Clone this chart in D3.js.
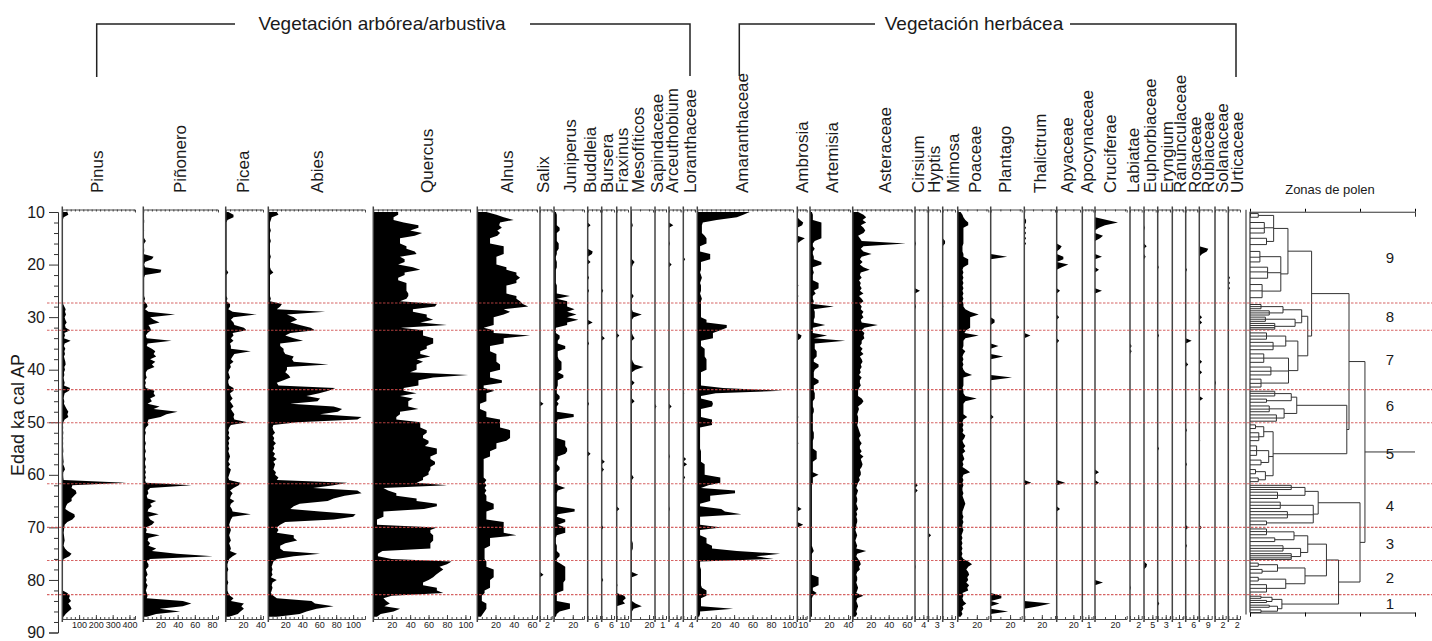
<!DOCTYPE html>
<html>
<head>
<meta charset="utf-8">
<script src="https://cdn.jsdelivr.net/npm/d3@7"></script>
<style>
  body { margin: 0; background: #fff; }
  svg text { font-family: "Liberation Sans", Arial, sans-serif; fill: #1a1a1a; }
</style>
</head>
<body>
<svg width="1432" height="641"></svg>
<script>
// ---- data -------------------------------------------------------------

var ages = [
  10,10.5,11,11.5,12,12.5,13,13.5,14,14.5,
  15,15.5,16,16.5,17,17.5,18,18.5,19,19.5,
  20,20.5,21,21.5,22,22.5,23,23.5,24,24.5,
  25,25.5,26,26.5,27,27.5,28,28.5,29,29.5,
  30,30.5,31,31.5,32,32.5,33,33.5,34,34.5,
  35,35.5,36,36.5,37,37.5,38,38.5,39,39.5,
  40,40.5,41,41.5,42,42.5,43,43.5,44,44.5,
  45,45.5,46,46.5,47,47.5,48,48.5,49,49.5,
  50,50.5,51,51.5,52,52.5,53,53.5,54,54.5,
  55,55.5,56,56.5,57,57.5,58,58.5,59,59.5,
  60,60.5,61,61.5,62,62.5,63,63.5,64,64.5,
  65,65.5,66,66.5,67,67.5,68,68.5,69,69.5,
  70,70.5,71,71.5,72,72.5,73,73.5,74,74.5,
  75,75.5,76,76.5,77,77.5,78,78.5,79,79.5,
  80,80.5,81,81.5,82,82.5,83,83.5,84,84.5,
  85,85.5,86,86.5,87
];

var taxa = ["Pinus", "Piñonero", "Picea", "Abies", "Quercus", "Alnus", "Salix", "Juniperus",
  "Buddleia", "Bursera", "Fraxinus", "Mesofíticos", "Sapindaceae", "Arceuthobium", "Loranthaceae",
  "Amaranthaceae", "Ambrosia", "Artemisia", "Asteraceae", "Cirsium", "Hyptis", "Mimosa", "Poaceae",
  "Plantago", "Thalictrum", "Apyaceae", "Apocynaceae", "Cruciferae", "Labiatae", "Euphorbiaceae",
  "Eryngium", "Ranunculaceae", "Rosaceae", "Rubiaceae", "Solanaceae", "Urticaceae"];

var axisMax = [433, 87, 43, 114, 105, 65.6, 3.3, 32, 8.6, 7.9, 14.9, 24.4, 1.5, 6.2, 6.2,
  104, 17.4, 42, 65.6, 5.6, 4.2, 4.2, 32, 32, 35, 28, 1.8, 31.7, 2.85, 7, 4.6, 1.64, 9.1, 13.3, 2.9, 2.8];

var axisTicks = [[100, 200, 300, 400], [20, 40, 60, 80], [20, 40], [20, 40, 60, 80, 100],
  [20, 40, 60, 80, 100], [20, 40, 60], [2], [20], [6], [6], [10], [20], [1], [4], [4],
  [20, 40, 60, 80, 100], [10], [20, 40], [20, 40, 60], [4], [3], [3], [20], [20], [20], [20],
  [1], [20], [2], [5], [3], [1], [6], [9], [2], [2]];

var pinus = [
  30,36,8,3,2,2,2,2,2,2,  2,2,2,2,2,2,2,2,2,2,  2,2,2,2,2,2,2,2,2,2,
  2,2,2,2,3,5,12,20,16,22,  14,18,26,16,20,46,12,16,10,50,  14,10,18,12,16,10,14,18,20,12,
  16,10,12,8,10,14,10,46,40,14,  10,8,12,10,18,26,36,30,36,14,  6,4,5,4,6,4,5,4,5,4,
  5,6,4,5,6,8,5,12,16,6,  5,6,8,380,60,55,80,85,70,55,  56,30,22,18,40,72,75,60,30,14,
  12,10,8,10,12,14,10,8,16,30,  55,42,8,3,2,2,2,2,2,2,  2,2,2,2,2,30,45,40,52,36,
  48,55,36,20,8];

var pinonero = [
  0,0,0,1,1,0,0,1,0,0,  1,3,1,0,1,1,0,12,10,2,  1,2,21,20,2,1,1,1,1,1,
  1,1,1,2,1,4,5,2,6,37,  8,12,19,6,8,9,5,3,4,33,  5,4,10,14,12,15,8,14,10,13,
  5,3,3,4,2,3,2,3,13,12,  14,8,10,5,19,12,40,27,20,6,  5,6,3,2,3,2,2,2,3,2,
  2,3,2,2,3,2,2,3,2,3,  2,3,2,3,56,8,5,6,4,5,  15,8,10,6,5,18,6,8,13,10,
  3,4,3,19,6,5,8,6,15,10,  39,81,8,4,6,6,3,4,5,3,  4,3,5,4,3,4,5,4,46,56,
  46,19,43,15,4];

var picea = [
  3,9,9,2,1,1,1,1,1,1,  1,1,1,1,1,1,1,1,1,1,  1,1,1,3,1,1,1,1,1,1,
  1,1,1,2,1,5,5,3,8,36,  9,6,9,10,21,24,8,9,6,9,  5,6,6,29,10,8,6,9,5,6,
  4,3,4,5,3,3,4,9,9,5,  6,8,5,7,9,6,8,10,9,10,  25,6,4,3,4,3,5,3,4,3,
  4,3,4,5,4,3,5,3,6,5,  4,3,4,17,15,9,5,8,6,5,  10,6,5,7,8,29,8,6,5,4,
  5,6,5,4,5,6,4,5,6,5,  13,8,4,3,2,2,3,2,2,2,  2,3,2,2,2,3,5,9,6,21,
  18,21,17,14,4];

var abies = [
  10,12,4,3,2,2,2,3,2,2,  2,3,2,2,2,2,2,3,2,2,  2,2,3,6,2,2,2,2,2,2,
  2,2,2,3,2,16,14,10,67,22,  30,34,26,37,50,55,26,20,30,41,  14,14,18,18,20,30,28,30,71,22,
  22,20,24,26,18,10,12,79,71,60,  45,61,58,26,77,87,82,61,110,105,  34,6,5,6,8,5,7,6,9,6,
  7,5,8,6,10,6,8,7,6,9,  8,12,10,93,77,53,105,110,90,77,  70,37,30,26,61,103,100,77,20,14,
  10,12,10,30,30,34,20,14,14,18,  61,30,10,6,5,4,5,4,5,3,  10,5,4,5,4,3,6,10,51,55,
  77,57,45,37,10];

var quercus = [
  27,27,22,22,33,49,49,40,53,45,  29,29,29,36,36,45,47,29,34,34,  27,43,51,34,34,27,27,36,36,36,
  36,38,38,36,29,69,67,43,43,58,  58,65,51,80,30,54,54,54,65,65,  65,58,58,51,51,62,47,54,47,47,
  47,40,103,65,49,49,49,33,33,47,  29,43,38,38,38,49,29,29,25,25,  51,51,51,58,58,54,54,60,60,56,
  69,69,69,62,62,67,67,62,62,60,  60,54,54,47,80,11,16,25,25,47,  47,69,69,55,11,11,11,4,4,4,
  69,62,62,65,65,65,62,62,62,10,  5,5,20,85,80,72,76,72,68,65,  60,54,54,69,69,76,20,11,14,18,
  12,29,22,8,4];

var alnus = [
  10,21,29,40,25,24,27,22,25,22,  14,14,14,29,29,29,29,21,21,21,  21,32,32,43,43,47,43,43,32,32,
  32,32,43,43,47,50,56,29,36,29,  18,18,18,18,7,18,18,58,29,29,  29,14,14,14,21,21,21,21,25,25,
  25,14,14,14,27,27,7,7,19,10,  10,10,10,3,3,3,10,10,10,25,  25,25,25,36,36,36,36,32,21,21,
  21,14,14,14,7,7,7,7,7,7,  7,7,10,8,10,8,10,8,10,10,  10,18,18,18,10,10,10,10,29,29,
  29,29,29,43,14,14,14,14,8,8,  8,8,8,10,10,10,18,18,18,18,  14,14,14,14,8,8,5,5,5,10,
  10,10,8,6,4];

var juniperus = [
  2,3,3,3,3,3,6,6,3,3,  3,3,5,5,5,3,3,2,2,3,  3,3,2,2,2,2,2,2,3,3,
  3,3,17,3,14,14,14,22,14,24,  14,26,14,14,2,2,2,6,6,4,  4,12,12,4,4,4,5,8,8,8,
  8,4,10,10,4,4,4,3,3,3,  6,6,3,5,3,3,3,21,21,4,  3,3,3,3,3,3,3,12,12,12,
  14,14,12,4,4,3,3,6,6,3,  3,3,3,3,4,12,4,3,3,3,  3,3,3,22,22,4,3,12,12,4,
  12,12,12,3,2,2,2,3,3,3,  6,6,3,3,8,12,12,12,12,12,  12,10,10,10,10,3,3,3,3,17,
  17,17,6,3,2];

var mesofiticos = [
  1,1,1,1,1,2,1,1,1,1,  1,1,1,1,1,1,1,1,1,4,  2,1,1,1,1,1,1,1,1,1,
  1,1,3,1,1,1,1,1,2,12,  3,1,1,1,1,1,1,2,4,1,  1,1,1,1,1,1,1,2,4,14,
  5,1,1,1,1,4,1,1,1,1,  1,1,4,1,1,1,1,1,1,1,  1,1,1,1,1,1,1,1,1,1,
  1,1,1,1,1,1,1,1,1,1,  1,3,1,1,1,1,1,1,1,1,  1,1,1,1,1,1,1,1,1,1,
  1,1,1,1,1,1,2,2,2,1,  1,1,1,1,1,1,1,1,8,1,  1,1,1,1,1,1,1,1,1,5,
  12,3,1,1,1];

var amaranthaceae = [
  57,50,43,21,6,5,5,5,5,8,  10,10,10,3,3,3,14,14,14,4,  4,4,4,3,4,5,4,3,4,4,
  4,3,4,5,4,4,4,4,4,4,  4,10,10,32,32,25,17,17,17,4,  4,4,8,8,8,8,10,10,10,10,
  10,4,4,4,4,4,4,28,93,20,  4,4,16,17,16,4,4,4,4,16,  16,16,3,3,3,3,3,3,3,3,
  3,4,4,4,4,4,8,8,8,8,  8,25,25,25,12,4,41,41,14,14,  14,3,3,26,30,48,3,3,3,3,
  26,3,3,3,10,10,10,16,16,43,  90,64,83,3,3,3,4,4,4,4,  4,4,4,5,10,10,10,4,4,4,
  4,39,3,3,2];

var artemisia = [
  2,3,3,3,12,12,12,12,12,12,  12,5,3,3,5,3,3,4,4,12,  12,3,3,4,3,3,3,9,9,9,
  4,6,3,3,4,3,25,4,5,5,  5,4,4,16,3,3,3,18,4,37,  5,5,5,7,7,7,4,4,9,9,
  5,4,4,4,9,9,4,4,4,5,  5,5,3,3,3,4,4,3,3,3,  3,3,3,3,4,4,4,3,3,3,
  3,7,7,7,7,3,3,3,3,3,  9,3,3,3,2,2,2,2,2,2,  2,2,2,2,2,2,2,2,2,2,
  2,2,2,2,2,2,2,2,3,4,  2,2,2,2,2,2,2,2,2,9,  9,9,9,3,3,7,3,2,2,2,
  2,2,2,2,2];

var asteraceae = [
  6,12,15,11,15,9,12,14,12,6,  8,10,59,12,9,12,21,10,8,11,  8,12,19,9,8,10,7,9,8,10,
  8,12,7,10,12,8,10,9,12,10,  12,9,10,28,13,10,13,12,13,10,  10,8,11,9,12,8,10,11,9,10,
  8,9,7,10,8,8,9,7,6,6,  6,10,12,10,6,7,6,5,6,6,  6,5,6,7,8,9,7,8,10,8,
  8,10,8,12,9,10,11,10,8,9,  9,7,8,6,5,4,6,5,4,5,  5,4,5,6,4,5,4,5,5,4,
  4,3,4,5,4,3,4,5,4,15,  5,4,6,8,9,7,8,5,4,5,  5,4,5,6,5,4,12,5,4,5,
  6,5,4,5,3];

var poaceae = [
  3,5,6,8,11,11,6,6,6,6,  6,6,6,5,5,5,6,6,11,11,  11,6,5,6,5,6,5,6,5,6,
  5,6,5,6,5,6,6,8,13,22,  13,13,13,13,13,9,7,22,8,6,  6,6,5,8,6,5,6,5,6,5,
  6,8,15,6,6,6,6,5,6,6,  8,20,8,6,6,6,6,6,10,6,  5,6,5,6,5,8,7,5,6,8,
  6,8,5,6,7,5,6,5,9,13,  6,5,6,5,6,5,5,6,5,6,  7,8,7,6,5,5,6,5,6,5,
  5,6,5,4,5,4,5,4,5,4,  5,4,6,11,15,11,9,11,12,10,  11,9,12,10,11,5,6,5,6,9,
  5,6,4,5,3];

// scattered occurrences [age, value] for the rarer taxa
var salixOcc = [[46.5, 1], [79, 1]];
var buddleiaOcc = [[12.5, 2], [17.5, 3.5], [18, 3], [19.5, 2], [22.5, 1], [25, 1], [31, 3.5], [35, 1], [46.5, 1], [56, 2]];
var burseraOcc = [[25, 1], [34, 2], [57.5, 2], [59, 1.5], [70, 1], [80, 1]];
var fraxinusOcc = [[33.5, 3.5], [66.5, 3.5], [81, 1], [83, 10], [83.5, 12], [84, 8], [84.5, 11]];
var sapindaceaeOcc = [[47, 0.2]];
var arceuthobiumOcc = [[12.5, 2.3], [16, 0.5], [20, 1.4], [47, 1.4], [56.5, 0.5], [66.5, 0.5]];
var loranthaceaeOcc = [[19, 1], [44.5, 0.5], [57, 1.5], [58, 2], [60.5, 1]];
var ambrosiaOcc = [[11.5, 5], [12, 11], [12.5, 9], [15, 14], [15.5, 6], [24, 2], [26, 2], [33.5, 8], [34, 6], [49, 2], [54, 2], [66.5, 8], [69.5, 11]];
var cirsiumOcc = [[16, 0.5], [25, 2.4], [28, 0.5], [62, 1.3], [63, 1.3], [77.5, 0.3]];
var hyptisOcc = [[71.5, 1]];
var mimosaOcc = [[15.5, 0.8], [16, 0.8], [28, 0.2]];
var plantagoOcc = [[18.5, 17], [30.5, 4], [31, 4], [35.5, 8], [37.5, 13], [41.5, 22], [49, 3], [83, 11], [83.5, 11], [84.5, 9], [86, 18]];
var thalictrumOcc = [[11.5, 2], [12, 2], [13, 2], [14, 2], [15, 2], [16, 2], [33.5, 7], [61.5, 8], [84.5, 30], [85, 16]];
var apyaceaeOcc = [[16.5, 6], [17, 4], [18.5, 8], [19, 8], [20, 14], [20.5, 6], [25, 4], [30, 3], [34.5, 3], [61.5, 10], [66.5, 4]];
var apocynaceaeOcc = [[48, 0.1]];
var cruciferaeOcc = [[11.5, 12], [12, 23], [12.5, 10], [13, 4], [14.5, 8], [15, 5], [18.5, 7], [21, 4], [25, 7], [59.5, 4], [61.5, 4], [80.5, 8]];
var labiataeOcc = [[35.5, 0.4], [36.5, 0.4], [81.5, 0.2]];
var euphorbiaceaeOcc = [[13, 0.5], [16.5, 1.6], [18.5, 1], [77, 1.8], [77.5, 1.5]];
var eryngiumOcc = [[20.5, 0.4], [33.5, 0.5], [55, 0.5], [84.5, 0.6]];
var ranunculaceaeOcc = [[21, 0.1]];
var rosaceaeOcc = [[21, 1], [34.5, 4.7], [39, 2], [51.5, 1], [58, 1], [70, 2], [73.5, 1]];
var rubiaceaeOcc = [[17, 9.6], [17.5, 8], [18, 3], [30, 3], [31, 3], [38.5, 3], [40.5, 3], [45.5, 4], [53.5, 1], [70, 2.5]];
var solanaceaeOcc = [[42.5, 0.3]];
var urticaceaeOcc = [[22.5, 0.4], [23.5, 0.4], [24.5, 0.4], [46.5, 0.2]];

var groupTitles = ["Vegetación arbórea/arbustiva", "Vegetación herbácea"];
var ageTicks = [10, 20, 30, 40, 50, 60, 70, 80, 90];
var zoneBounds = [10, 27.3, 32.5, 43.8, 50.1, 61.7, 70, 76.3, 82.8, 86.2];
var zoneNames = ["9", "8", "7", "6", "5", "4", "3", "2", "1"];

// dendrogram: [height, child, child, ...], a plain number is a sample age
var zone9 = [6.9, [4.3, [1.5, 10.3, 11.0], [2.6, 12.0, 13.1, 14.0], [3.0, 15.0, 16.2]],
  [5.6, [1.8, 17.5, 18.6, 19.5], [3.2, 20.5, 21.4, 22.6], [2.2, 23.8, 25.0, 26.3]]];
var zone8 = [9.4, [6.0, [2.0, 27.6, 28.0, 28.4], [3.5, 28.8, 29.2, 29.6]],
  [8.2, [2.8, 30.0, 30.4, 30.8], [4.5, 31.2, 31.6, 32.0, 32.3]]];
var zone7 = [8.7, [6.5, [3.0, 33.0, 33.6, 34.2], [4.2, 34.8, 35.5, 36.2]],
  [7.0, [2.5, 37.0, 37.8, 38.6], [3.8, 39.5, 40.3, 41.0], [2.0, 41.8, 42.6, 43.3]]];
var zone6 = [8.5, [7.5, [4.5, 44.1, 44.5, 45.0], [3.0, 45.6, 46.2]],
  [6.2, [3.5, 46.9, 47.5, 48.0], [4.8, 48.6, 49.2, 49.8]]];
var zone5 = [4.2, [2.5, [1.0, 50.5, 51.2], [1.6, 52.0, 52.8, 53.5]],
  [3.4, [1.2, 54.5, 55.4, 56.3], [2.0, 57.2, 58.1]], [2.8, [1.0, 59.0, 59.8], [1.5, 60.6, 61.3]]];
var zone4 = [12.4, [10.0, [7.5, 62.0, 62.4, 62.8], [5.0, 63.3, 63.9, 64.5]],
  [11.5, [5.5, 65.2, 65.8, 66.4], [6.8, 67.0, 67.6, 68.2], [3.0, 68.8, 69.5]]];
var zone3 = [10.5, [8.0, [3.0, 70.3, 70.8, 71.4], [4.5, 72.0, 72.7]],
  [9.2, [6.0, 73.5, 74.0, 74.5], [7.5, 75.0, 75.4, 75.8, 76.1]]];
var zone2 = [10.0, [5.0, [1.5, 76.8, 77.4], [2.2, 78.0, 78.7]],
  [6.5, [1.5, 79.5, 80.2], [3.0, 80.9, 81.6, 82.3]]];
var zone1 = [5.8, [4.0, [2.0, 83.1, 83.5], [3.0, 83.9, 84.3]],
  [5.0, [3.5, 84.8, 85.2], [2.0, 85.7, 86.2]]];
var dendro = [20.9,
  [18.0, [11.2, zone9, [10.5, zone8, zone7]], [17.6, zone6, zone5]],
  [20.0, zone4, [16.1, [13.9, zone3, zone2], zone1]]];
var dendroTicks = [0, 10, 20, 30];

// ---- layout -----------------------------------------------------------

var panelLeft = [62.3, 143.3, 225.7, 268.3, 373.3, 477.3, 540, 554, 587.7, 601.7, 616.7, 631, 655, 669, 683.3,
  697.3, 797.3, 810, 852.7, 915, 928.3, 942.7, 957.7, 990.7, 1024.3, 1056.7, 1082.3, 1095, 1130, 1144,
  1157.7, 1172.3, 1185.7, 1199.3, 1215, 1228.3];
var panelWidth = [72.7, 74.7, 37.3, 96.7, 96.7, 59.7, 11.7, 30, 12.3, 12.3, 11.3, 22, 11, 11.7, 11.7,
  95.7, 9.4, 40, 59, 11.7, 11.7, 12.3, 30.6, 31, 30.7, 23.3, 11, 31.7, 11.7, 11.7, 12.3, 11, 11.6, 12.4, 10.7, 11.7];
var labelX = [96.7, 180, 243, 316.7, 426.7, 506.7, 543.3, 570, 590, 606.7, 621.7, 638.3, 656.7, 671.7, 690,
  741.7, 801.7, 831.7, 885, 918.3, 934, 953.3, 975, 1005, 1040, 1066.7, 1086.7, 1110, 1133.3, 1150,
  1166.7, 1180, 1195, 1208.3, 1221.7, 1236.7];

var topY = 209.5, bottomY = 619;

function fromOccurrences(occ) {
  var lookup = new Map(occ.map(function(o) { return [o[0], o[1]]; }));
  return ages.map(function(a) { return lookup.has(a) ? lookup.get(a) : 0; });
}

var series = [pinus, pinonero, picea, abies, quercus, alnus, fromOccurrences(salixOcc), juniperus,
  fromOccurrences(buddleiaOcc), fromOccurrences(burseraOcc), fromOccurrences(fraxinusOcc), mesofiticos,
  fromOccurrences(sapindaceaeOcc), fromOccurrences(arceuthobiumOcc), fromOccurrences(loranthaceaeOcc),
  amaranthaceae, fromOccurrences(ambrosiaOcc), artemisia, asteraceae, fromOccurrences(cirsiumOcc),
  fromOccurrences(hyptisOcc), fromOccurrences(mimosaOcc), poaceae, fromOccurrences(plantagoOcc),
  fromOccurrences(thalictrumOcc), fromOccurrences(apyaceaeOcc), fromOccurrences(apocynaceaeOcc),
  fromOccurrences(cruciferaeOcc), fromOccurrences(labiataeOcc), fromOccurrences(euphorbiaceaeOcc),
  fromOccurrences(eryngiumOcc), fromOccurrences(ranunculaceaeOcc), fromOccurrences(rosaceaeOcc),
  fromOccurrences(rubiaceaeOcc), fromOccurrences(solanaceaeOcc), fromOccurrences(urticaceaeOcc)];

// ---- drawing ----------------------------------------------------------

var svg = d3.select("svg");

var yAge = d3.scaleLinear().domain([10, 90]).range([212, 632.5]);

// group titles with brackets
var brackets = svg.append("g").attr("fill", "none").attr("stroke", "#222").attr("stroke-width", 1.5);
brackets.append("path").attr("d", "M96.7,77V24H235 M530,24H690V76");
brackets.append("path").attr("d", "M739.3,76V24H875 M1070,24H1236V77");

svg.append("text").attr("x", 382).attr("y", 29.5).attr("text-anchor", "middle")
  .style("font-size", "19px").text(groupTitles[0]);
svg.append("text").attr("x", 974).attr("y", 29.5).attr("text-anchor", "middle")
  .style("font-size", "19px").text(groupTitles[1]);

// age axis
var ageAxis = svg.append("g")
  .attr("transform", "translate(58,0)")
  .call(d3.axisLeft(yAge).tickValues(ageTicks).tickSize(9).tickSizeOuter(9).tickPadding(4));
ageAxis.selectAll("text").style("font-size", "16px").attr("font-family", null);
svg.append("g")
  .attr("transform", "translate(58,0)")
  .call(d3.axisLeft(yAge).tickValues(d3.range(12, 90, 2).filter(function(v) { return v % 10 !== 0; }))
    .tickSize(4).tickFormat(""))
  .select(".domain").remove();
svg.selectAll(".tick line, .domain").attr("stroke", "#333");

svg.append("text")
  .attr("transform", "translate(24,415) rotate(-90)")
  .attr("text-anchor", "middle")
  .style("font-size", "18px")
  .text("Edad ka cal AP");

// one panel per taxon
taxa.forEach(function(name, i) {
  var x0 = panelLeft[i];
  var x = d3.scaleLinear().domain([0, axisMax[i]]).range([x0, x0 + panelWidth[i]]);
  var ticks = axisTicks[i];
  var step = ticks.length > 1 ? (ticks[1] - ticks[0]) / 4 : ticks[0] / 2;
  var minor = d3.range(step, axisMax[i] + 1e-6, step);
  var data = ages.map(function(a, k) { return {age: a, v: series[i][k]}; });

  var g = svg.append("g").attr("class", "panel");

  var area = d3.area()
    .y(function(d) { return yAge(d.age); })
    .x0(x(0))
    .x1(function(d) { return x(d.v); });

  g.append("path")
    .datum(data)
    .attr("fill", "#000")
    .attr("d", area);

  // top axis
  g.append("g")
    .attr("transform", "translate(0," + topY + ")")
    .call(d3.axisTop(x).tickValues(minor).tickSize(-2).tickSizeOuter(-3).tickFormat(""));

  // bottom axis
  var bottom = g.append("g")
    .attr("transform", "translate(0," + bottomY + ")")
    .call(d3.axisBottom(x).tickValues(ticks).tickSize(-4).tickSizeOuter(-3).tickPadding(3)
      .tickFormat(d3.format("~g")));
  bottom.selectAll("text").style("font-size", "9px").attr("font-family", null).attr("fill", "#333");
  g.append("g")
    .attr("transform", "translate(0," + bottomY + ")")
    .call(d3.axisBottom(x).tickValues(minor).tickSize(-2).tickFormat(""))
    .select(".domain").remove();

  g.selectAll(".domain, .tick line").attr("stroke", "#333").attr("stroke-width", 0.9);

  // panel base line
  g.append("line")
    .attr("x1", x(0)).attr("x2", x(0))
    .attr("y1", topY - 3).attr("y2", bottomY + 3)
    .attr("stroke", "#444").attr("stroke-width", 1.5);

  svg.append("text")
    .attr("transform", "translate(" + (labelX[i] + 6) + ",193) rotate(-90)")
    .attr("text-anchor", "start")
    .style("font-size", "17px")
    .text(name);
});

// dendrogram (pollen zones)
var dx = d3.scaleLinear().domain([0, 30]).range([1250, 1415]);
var dendroG = svg.append("g").attr("stroke", "#333").attr("stroke-width", 1).attr("fill", "none");

function drawNode(node) {
  if (typeof node === "number") return {y: yAge(node), h: 0};
  var h = node[0];
  var kids = node.slice(1).map(drawNode);
  var ys = kids.map(function(k) { return k.y; });
  var ya = d3.min(ys), yb = d3.max(ys);
  kids.forEach(function(k) {
    dendroG.append("line")
      .attr("x1", dx(k.h)).attr("x2", dx(h))
      .attr("y1", k.y).attr("y2", k.y);
  });
  dendroG.append("line")
    .attr("x1", dx(h)).attr("x2", dx(h))
    .attr("y1", ya).attr("y2", yb);
  return {y: (ya + yb) / 2, h: h};
}

var root = drawNode(dendro);
dendroG.append("line")
  .attr("x1", dx(root.h)).attr("x2", dx(30))
  .attr("y1", root.y).attr("y2", root.y);

var dTop = yAge(9.95), dBottom = yAge(86.2);
svg.append("g")
  .attr("transform", "translate(0," + dTop + ")")
  .call(d3.axisTop(dx).tickValues(dendroTicks).tickSize(3).tickSizeOuter(-5).tickFormat(""));
svg.append("g")
  .attr("transform", "translate(0," + dBottom + ")")
  .call(d3.axisBottom(dx).tickValues(dendroTicks).tickSize(4).tickSizeOuter(4).tickFormat(""));
svg.append("line")
  .attr("x1", 1250).attr("x2", 1250).attr("y1", dTop).attr("y2", dBottom)
  .attr("stroke", "#333").attr("stroke-width", 1.2);
svg.append("line")
  .attr("x1", 1246).attr("x2", 1246).attr("y1", dTop - 2).attr("y2", dBottom + 2)
  .attr("stroke", "#444").attr("stroke-width", 1.2);
svg.selectAll(".domain").attr("stroke", "#333");

svg.append("text").attr("x", 1330).attr("y", 194).attr("text-anchor", "middle")
  .style("font-size", "13px").text("Zonas de polen");

svg.append("g").selectAll("text")
  .data(zoneNames)
  .enter().append("text")
  .attr("x", 1390)
  .attr("y", function(d, i) { return (yAge(zoneBounds[i]) + yAge(zoneBounds[i + 1])) / 2; })
  .attr("dy", "0.35em")
  .attr("text-anchor", "middle")
  .style("font-size", "15px")
  .text(function(d) { return d; });

// zone boundaries
svg.append("g").selectAll("line")
  .data(zoneBounds.slice(1, -1))
  .enter().append("line")
  .attr("x1", 47).attr("x2", 1432)
  .attr("y1", function(d) { return yAge(d); })
  .attr("y2", function(d) { return yAge(d); })
  .attr("stroke", "#cf4a4a")
  .attr("stroke-width", 1.1)
  .attr("stroke-dasharray", "2.5,1.5")
  .attr("opacity", 0.85);
</script>
</body>
</html>
